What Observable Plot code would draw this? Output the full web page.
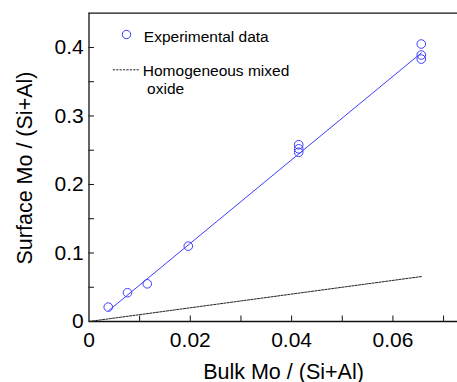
<!DOCTYPE html>
<html><head><meta charset="utf-8">
<script src="https://cdn.jsdelivr.net/npm/d3@7"></script>
<script src="https://cdn.jsdelivr.net/npm/@observablehq/plot@0.6"></script>
<style>body{margin:0;background:#fff;}</style>
</head><body><div id="chart"></div>
<script>
// Experimental data
const bulkMo    = [0.0038, 0.0076, 0.0115, 0.0196, 0.0414, 0.0414, 0.0414, 0.0656, 0.0656, 0.0656];
const surfaceMo = [0.021, 0.042, 0.055, 0.110, 0.258, 0.252, 0.247, 0.405, 0.389, 0.383];
// Linear fit through the data
const fitX = [0.0039, 0.0656];
const fitY = [0.016, 0.392];
// Homogeneous mixed oxide (surface = bulk)
const homogX = [0, 0.0656];
const homogY = [0, 0.0656];
// Axes
const xDomain = [0, 0.07275];
const yDomain = [0, 0.45];
const xTickLabels = [0, 0.02, 0.04, 0.06];
const xTickMarks = [0.01, 0.02, 0.03, 0.04, 0.05, 0.06, 0.07];
const yTickLabels = [0, 0.1, 0.2, 0.3, 0.4];
const yTickMarks = [0.05, 0.1, 0.15, 0.2, 0.25, 0.3, 0.35, 0.4];
const xTitle = "Bulk Mo / (Si+Al)";
const yTitle = "Surface Mo / (Si+Al)";
const legendLabels = ["Experimental data", "Homogeneous mixed\n\u00a0oxide"];

const W = 457, H = 382;
const mL = 88.5, mR = 0, mT = 12.7, mB = 61;
const frameW = W - mL - mR, frameH = H - mT - mB;
const blue = "#3d3dff";
const font = "'Liberation Sans', Arial, Helvetica, sans-serif";

const points = bulkMo.map((x, i) => ({x, y: surfaceMo[i]}));
const fit = fitX.map((x, i) => ({x, y: fitY[i]}));
const homog = homogX.map((x, i) => ({x, y: homogY[i]}));

const lineShape = {draw(context, l) { context.moveTo(0, 0); context.lineTo(0, -l); }};

const chart = Plot.plot({
  width: W, height: H,
  marginLeft: mL, marginRight: mR, marginTop: mT, marginBottom: mB,
  style: {fontFamily: font, color: "#000", background: "#fff", overflow: "visible"},
  x: {domain: xDomain},
  y: {domain: yDomain},
  marks: [
    // axis frame lines
    Plot.ruleY([yDomain[0]], {stroke: "#111", strokeWidth: 1.3}),
    Plot.ruleY([yDomain[1]], {stroke: "#111", strokeWidth: 1.3}),
    Plot.ruleX([xDomain[0]], {stroke: "#111", strokeWidth: 1.3}),
    // inward ticks
    Plot.tickX(xTickMarks, {x: d => d, insetTop: frameH - 5.5, stroke: "#111", strokeWidth: 1}),
    Plot.tickY(yTickMarks, {y: d => d, insetRight: frameW - 5.5, stroke: "#111", strokeWidth: 1}),
    // tick labels
    Plot.axisX({ticks: xTickLabels, tickSize: 0, tickPadding: 10.7, fontSize: 21, tickFormat: d => String(d), label: null}),
    Plot.axisY({ticks: yTickLabels, tickSize: 0, tickPadding: 5.2, fontSize: 21, tickFormat: d => String(d), label: null}),
    // axis titles
    Plot.text([xTitle], {text: d => d, frameAnchor: "bottom", textAnchor: "middle", lineAnchor: "bottom", dx: 10.25, dy: 57, fontSize: 21.5, fill: "#000"}),
    Plot.text([yTitle], {text: d => d, frameAnchor: "left", textAnchor: "middle", rotate: -90, lineAnchor: "bottom", dx: -56.8, dy: 0.65, fontSize: 21.5, fill: "#000"}),
    // data
    Plot.line(homog, {x: "x", y: "y", stroke: "#222", strokeWidth: 1, strokeDasharray: "2.2,1.2"}),
    Plot.line(fit, {x: "x", y: "y", stroke: blue, strokeWidth: 1}),
    Plot.dot(points, {x: "x", y: "y", r: 4.3, stroke: blue, strokeWidth: 1, fill: "none"}),
    // legend
    Plot.dot([legendLabels[0]], {frameAnchor: "top-left", dx: 37.5, dy: 21.3, r: 4.2, stroke: blue, strokeWidth: 1, fill: "none"}),
    Plot.text([legendLabels[0]], {text: d => d, frameAnchor: "top-left", textAnchor: "start", lineAnchor: "bottom", dx: 54.8, dy: 29, fontSize: 15.5, fill: "#000"}),
    Plot.vector([legendLabels[1]], {frameAnchor: "top-left", dx: 23.8, dy: 56.6, length: 26, rotate: 90, anchor: "start", shape: lineShape, stroke: "#222", strokeWidth: 1, strokeDasharray: "2.2,1.2", strokeLinecap: "butt"}),
    Plot.text([legendLabels[1]], {text: d => d, frameAnchor: "top-left", textAnchor: "start", lineAnchor: "top", lineHeight: 1.18, dx: 53.8, dy: 49.6, fontSize: 15.5, fill: "#000"})
  ]
});
document.getElementById("chart").appendChild(chart);
</script>
</body></html>
